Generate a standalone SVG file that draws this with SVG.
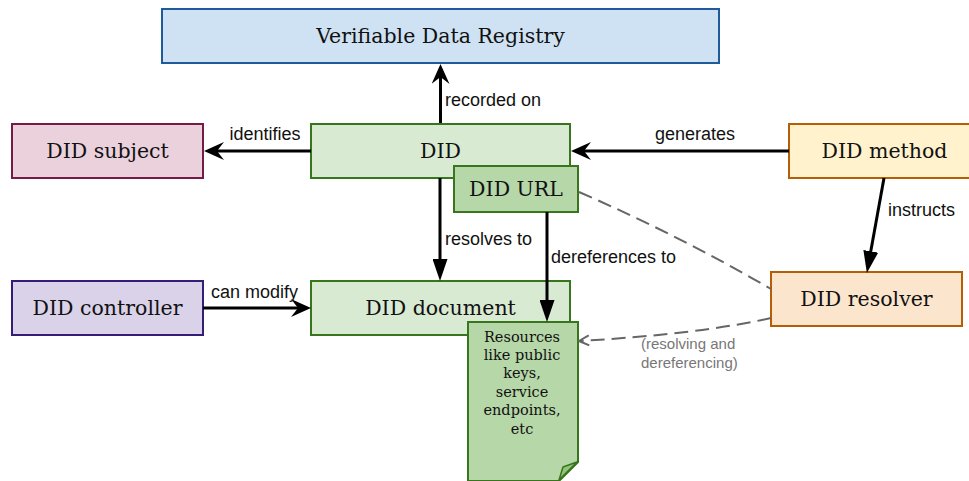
<svg xmlns="http://www.w3.org/2000/svg" width="969" height="481" viewBox="0 0 969 481">
<style>
.n{stroke-width:2}
.t{font-family:"DejaVu Serif","Liberation Serif",serif;font-size:20.5px;fill:#111;text-anchor:middle}
.r{font-family:"DejaVu Serif","Liberation Serif",serif;font-size:14.5px;fill:#111;text-anchor:middle}
.l{font-family:"Liberation Sans",Arial,sans-serif;font-size:18px;fill:#111}
.g{font-family:"Liberation Sans",Arial,sans-serif;font-size:15px;fill:#777}
.e{stroke:#000;stroke-width:3;fill:none}
.d{stroke:#666;stroke-width:2;fill:none;stroke-dasharray:14 7}
</style>
<defs>
<marker id="cl" markerUnits="userSpaceOnUse" viewBox="0 0 20 18" refX="7" refY="9" markerWidth="20" markerHeight="18" orient="auto">
<path d="M0,0 L20,9 L0,18 L7,9 Z" fill="#000"/>
</marker>
<marker id="bk" markerUnits="userSpaceOnUse" viewBox="0 0 22 15" refX="1" refY="7.5" markerWidth="22" markerHeight="15" orient="auto">
<path d="M0,0 L22,7.5 L0,15 Z" fill="#000"/>
</marker>
<marker id="op" markerUnits="userSpaceOnUse" viewBox="0 0 12 12" refX="11" refY="6" markerWidth="12" markerHeight="12" orient="auto">
<path d="M1,1 L11,6 L1,11" fill="none" stroke="#666" stroke-width="2"/>
</marker>
</defs>

<g id="vdr">
<rect class="n" x="162" y="9" width="557" height="54" fill="#cfe2f3" stroke="#1f5b9a"/>
<text class="t" x="440.5" y="43">Verifiable Data Registry</text>
</g>
<g id="did-subject">
<rect class="n" x="12" y="124" width="191" height="54" fill="#ead1dc" stroke="#741b47"/>
<text class="t" x="107.5" y="158">DID subject</text>
</g>
<g id="did">
<rect class="n" x="311" y="124" width="259" height="54" fill="#d9ead3" stroke="#38761d"/>
<text class="t" x="440.5" y="158">DID</text>
</g>
<g id="did-method">
<rect class="n" x="789" y="124" width="191" height="54" fill="#fff2cc" stroke="#b45f06"/>
<text class="t" x="884.5" y="158">DID method</text>
</g>
<g id="did-url">
<rect class="n" x="454" y="166" width="124" height="46" fill="#b6d7a8" stroke="#38761d"/>
<text class="t" x="516" y="196">DID URL</text>
</g>
<g id="did-controller">
<rect class="n" x="12" y="281" width="191" height="54" fill="#d9d2e9" stroke="#351c75"/>
<text class="t" x="107.5" y="315">DID controller</text>
</g>
<g id="did-document">
<rect class="n" x="311" y="281" width="259" height="54" fill="#d9ead3" stroke="#38761d"/>
<text class="t" x="440.5" y="315">DID document</text>
</g>
<g id="did-resolver">
<rect class="n" x="771" y="272" width="191" height="54" fill="#fce5cd" stroke="#b45f06"/>
<text class="t" x="866.5" y="306">DID resolver</text>
</g>
<g id="resources">
<path class="n" d="M468,322 H578 V462 L559,481 H468 Z" fill="#b6d7a8" stroke="#38761d"/>
<path d="M559,480 L563,467 L577,462 Z" fill="#93c47d" stroke="#38761d" stroke-width="1.5" stroke-linejoin="round"/>
<text class="r" x="522" y="342">Resources</text>
<text class="r" x="522" y="360">like public</text>
<text class="r" x="522" y="378">keys,</text>
<text class="r" x="522" y="397">service</text>
<text class="r" x="522" y="415">endpoints,</text>
<text class="r" x="522" y="434">etc</text>
</g>

<g id="connectors">
<path class="e" d="M440.5,123 V77" marker-end="url(#cl)"/>
<path class="e" d="M311,151 H217" marker-end="url(#cl)"/>
<path class="e" d="M789,151 H584" marker-end="url(#cl)"/>
<path class="e" d="M203,308 H298" marker-end="url(#cl)"/>
<path class="e" d="M440,178 V260" marker-end="url(#bk)"/>
<path class="e" d="M547,212 V301" marker-end="url(#bk)"/>
<path class="e" d="M884,178 L870.6,252.3" marker-end="url(#bk)"/>
<path class="d" d="M579,192 Q680,236 771,289"/>
<path class="d" d="M771,318 Q700,334 579,341" marker-end="url(#op)"/>
<text class="l" x="445" y="106">recorded on</text>
<text class="l" x="265" y="140" text-anchor="middle">identifies</text>
<text class="l" x="695" y="140" text-anchor="middle">generates</text>
<text class="l" x="445" y="245">resolves to</text>
<text class="l" x="551" y="263">dereferences to</text>
<text class="l" x="888" y="216">instructs</text>
<text class="l" x="211" y="298">can modify</text>
<text class="g" x="641" y="349">(resolving and</text>
<text class="g" x="641" y="368">dereferencing)</text>
</g>
</svg>
